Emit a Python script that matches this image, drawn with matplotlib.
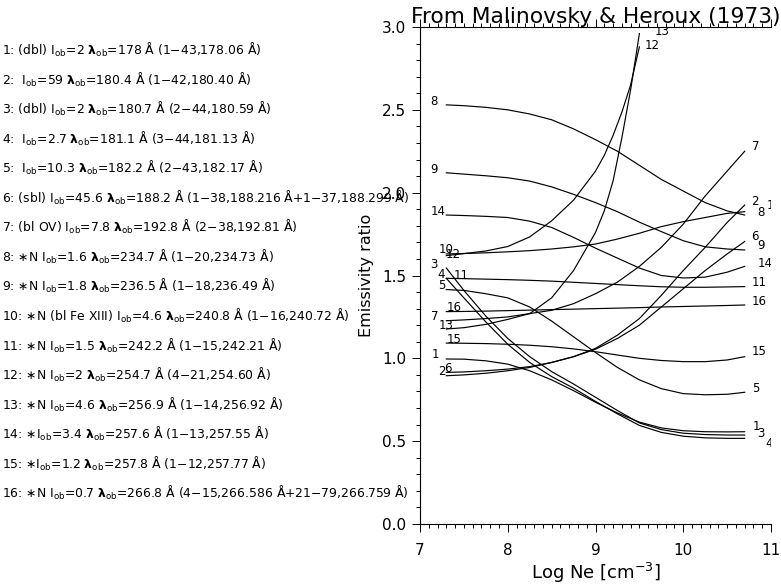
import matplotlib
matplotlib.use("Agg")
import matplotlib.pyplot as plt
from matplotlib.ticker import MultipleLocator

# density grid (log Ne) the ratios were read at
log_ne = [7.3, 7.5, 7.75, 8.0, 8.25, 8.5, 8.75, 9.0, 9.25, 9.5, 9.75, 10.0, 10.25, 10.5, 10.7]
log_ne_steep = [7.3, 7.5, 7.75, 8.0, 8.25, 8.5, 8.75, 9.0, 9.1, 9.2, 9.3, 9.4, 9.5]

ratio_1 = [0.996, 0.995, 0.985, 0.965, 0.925, 0.87, 0.805, 0.735, 0.67, 0.615, 0.58, 0.563, 0.557, 0.556, 0.557]
ratio_2 = [0.895, 0.9, 0.91, 0.925, 0.945, 0.975, 1.01, 1.06, 1.14, 1.24, 1.38, 1.53, 1.67, 1.82, 1.925]
ratio_3 = [1.545, 1.41, 1.255, 1.12, 1.01, 0.92, 0.845, 0.765, 0.685, 0.61, 0.57, 0.548, 0.54, 0.537, 0.537]
ratio_4 = [1.483, 1.365, 1.22, 1.085, 0.975, 0.89, 0.82, 0.74, 0.665, 0.595, 0.553, 0.53, 0.52, 0.517, 0.517]
ratio_5 = [1.415, 1.41, 1.39, 1.365, 1.31, 1.225, 1.13, 1.035, 0.945, 0.87, 0.817, 0.787, 0.78, 0.783, 0.795]
ratio_6 = [0.915, 0.918, 0.925, 0.935, 0.95, 0.975, 1.01, 1.055, 1.12, 1.2, 1.31, 1.42, 1.53, 1.63, 1.705]
ratio_7 = [1.227, 1.232, 1.24, 1.25, 1.27, 1.29, 1.33, 1.39, 1.46, 1.555, 1.67, 1.81, 1.98, 2.13, 2.25]
ratio_8 = [2.53, 2.525, 2.515, 2.5, 2.475, 2.44, 2.385, 2.32, 2.25, 2.165, 2.08, 2.01, 1.94, 1.89, 1.865]
ratio_9 = [2.12, 2.112, 2.102, 2.09, 2.07, 2.035, 1.99, 1.94, 1.885, 1.822, 1.765, 1.71, 1.673, 1.66, 1.654]
ratio_10 = [1.63, 1.633, 1.637, 1.643, 1.65, 1.66, 1.673, 1.69, 1.72, 1.755, 1.795, 1.825, 1.85, 1.875, 1.885]
ratio_11 = [1.483, 1.481, 1.478, 1.475, 1.471, 1.466, 1.459, 1.452, 1.445, 1.438, 1.432, 1.429, 1.429, 1.431, 1.433]
ratio_12 = [1.62, 1.632, 1.648, 1.675, 1.733, 1.83, 1.955, 2.13, 2.225, 2.345, 2.485, 2.65, 2.88]
ratio_13 = [1.177, 1.185, 1.205, 1.235, 1.27, 1.365, 1.53, 1.76, 1.89, 2.07, 2.33, 2.62, 2.96]
ratio_14 = [1.865, 1.862, 1.857, 1.85, 1.828, 1.79, 1.73, 1.665, 1.605, 1.545, 1.5, 1.485, 1.49, 1.52, 1.555]
ratio_15 = [1.092, 1.091, 1.089, 1.085, 1.079, 1.07, 1.057, 1.04, 1.02, 1.0, 0.987, 0.98, 0.98, 0.99, 1.01]
ratio_16 = [1.282, 1.283, 1.285, 1.288, 1.291, 1.294, 1.297, 1.3, 1.303, 1.306, 1.31, 1.313, 1.316, 1.319, 1.322]

# line list shown on the left
notes = ["(dbl) ", " ", "(dbl) ", " ", " ", "(sbl) ", "(bl OV) ", "∗N ", "∗N ", "∗N (bl Fe XIII) ",
         "∗N ", "∗N ", "∗N ", "∗", "∗", "∗N "]
obs_int = ["2", "59", "2", "2.7", "10.3", "45.6", "7.8", "1.6", "1.8", "4.6", "1.5", "2", "4.6", "3.4", "1.2", "0.7"]
obs_wvl = ["178", "180.4", "180.7", "181.1", "182.2", "188.2", "192.8", "234.7", "236.5", "240.8",
           "242.2", "254.7", "256.9", "257.6", "257.8", "266.8"]
transitions = ["1−43,178.06 Å", "1−42,180.40 Å", "2−44,180.59 Å", "3−44,181.13 Å", "2−43,182.17 Å",
               "1−38,188.216 Å+1−37,188.299 Å", "2−38,192.81 Å", "1−20,234.73 Å", "1−18,236.49 Å",
               "1−16,240.72 Å", "1−15,242.21 Å", "4−21,254.60 Å", "1−14,256.92 Å", "1−13,257.55 Å",
               "1−12,257.77 Å", "4−15,266.586 Å+21−79,266.759 Å"]

ratios = [ratio_1, ratio_2, ratio_3, ratio_4, ratio_5, ratio_6, ratio_7, ratio_8,
          ratio_9, ratio_10, ratio_11, ratio_12, ratio_13, ratio_14, ratio_15, ratio_16]

# label nudges in pixels (start label, end label) so they sit like the original
left_off = {1: (-15, 4), 2: (-8, 4.5), 3: (-16, 4), 4: (-8.5, 4), 5: (-8.5, 4.5), 6: (-2, 4),
            7: (-15, 4.5), 8: (-16, 3.5), 9: (-16, 3.7), 10: (-8, 4), 11: (7, 3.3), 12: (-1, 1.5),
            13: (-8, 3.5), 14: (-16, 3.3), 15: (0, 3.4), 16: (0, 4)}
right_off = {1: (7.6, 5), 2: (6.3, 3.3), 3: (12, 1.7), 4: (20.3, -5), 5: (7, 4), 6: (6.3, 4.8),
             7: (7, 4.5), 8: (13, 2.3), 9: (13, 4.9), 10: (22, 6.7), 11: (7, 3.8), 12: (5.6, 1.8),
             13: (15.6, 1.8), 14: (13.3, 3), 15: (7, 4.9), 16: (7, 3.3)}

W, H = 781, 584
fig = plt.figure(figsize=(W / 100, H / 100), dpi=100)
ax = fig.add_axes([420 / W, 1 - 524 / H, 351 / W, 497 / H])

for i, yy in enumerate(ratios):
    n = i + 1
    xx = log_ne_steep if n in (12, 13) else log_ne
    ax.plot(xx, yy, color="black", linewidth=0.85)
    ax.annotate(str(n), (xx[0], yy[0]), xytext=left_off[n], textcoords="offset pixels",
                ha="left", va="center", fontsize=8.5, annotation_clip=False)
    # labels at the right end get cut at the plot edge (the "10" shows as "1")
    ax.annotate(str(n), (xx[-1], yy[-1]), xytext=right_off[n], textcoords="offset pixels",
                ha="left", va="center", fontsize=8.5, clip_on=True)

ax.set_xlim(7, 11)
ax.set_ylim(0, 3.0)
ax.xaxis.set_major_locator(MultipleLocator(1))
ax.xaxis.set_minor_locator(MultipleLocator(0.1))
ax.yaxis.set_major_locator(MultipleLocator(0.5))
ax.yaxis.set_minor_locator(MultipleLocator(0.1))
ax.yaxis.set_major_formatter(plt.FormatStrFormatter("%.1f"))
ax.spines["right"].set_visible(False)
for s in ("left", "top", "bottom"):
    ax.spines[s].set_linewidth(0.8)
ax.tick_params(which="both", direction="out", top=True, right=False, width=0.7)
ax.tick_params(which="major", length=6, labelsize=11, pad=4)
ax.tick_params(axis="x", which="major", pad=8)
ax.tick_params(which="minor", length=3)

ax.set_xlabel("Log Ne [cm$^{-3}$]", fontsize=13, labelpad=2)
ax.set_ylabel("Emissivity ratio", fontsize=11.5, labelpad=6)
ax.set_title("From Malinovsky & Heroux (1973)", fontsize=15.7, pad=3)

# the line list on the left
for i in range(16):
    txt = (f"{i + 1}: {notes[i]}I$_{{\\rm ob}}$={obs_int[i]} "
           f"$\\mathbf{{\\lambda}}_{{\\rm ob}}$={obs_wvl[i]} Å ({transitions[i]})")
    py = 50 + 29.55 * i
    fig.text(2 / W, 1 - py / H, txt, fontsize=8.9, ha="left", va="center")

fig.savefig("out.png", dpi=100)
